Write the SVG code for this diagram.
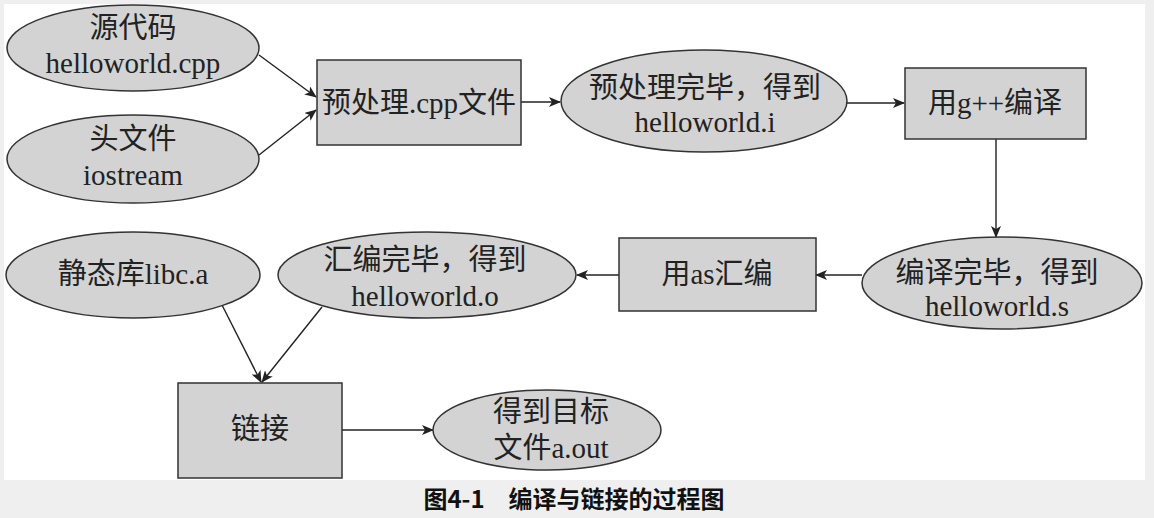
<svg xmlns="http://www.w3.org/2000/svg" width="1154" height="518" viewBox="0 0 1154 518">
<style>
.n{fill:#d3d3d3;stroke:#333;stroke-width:1.5}
.t{font-family:"Liberation Serif","Noto Sans CJK SC",serif;font-size:29px;fill:#222;text-anchor:middle}
.e{fill:none;stroke:#222;stroke-width:1.4;marker-end:url(#a)}
.cap{font-family:"Noto Sans CJK SC","Noto Sans",sans-serif;font-size:24px;font-weight:bold;fill:#111;text-anchor:middle}
</style>
<defs>
<marker id="a" viewBox="0 0 12 10" refX="11" refY="5" markerWidth="12" markerHeight="10" markerUnits="userSpaceOnUse" orient="auto">
<path d="M0,0 L12,5 L0,10 L3,5 Z" fill="#222"/>
</marker>
</defs>
<rect x="0" y="0" width="1154" height="518" fill="#efefef"/>
<rect x="4" y="4" width="1141" height="476" fill="#ffffff"/>
<g id="connectors">
<line class="e" x1="259" y1="55" x2="316" y2="97"/>
<line class="e" x1="259" y1="155" x2="316" y2="110"/>
<line class="e" x1="521" y1="102" x2="560" y2="102"/>
<line class="e" x1="847" y1="103" x2="904" y2="103"/>
<line class="e" x1="996" y1="139" x2="996" y2="237"/>
<line class="e" x1="862" y1="275" x2="816" y2="275"/>
<line class="e" x1="619" y1="275" x2="577" y2="275"/>
<line class="e" x1="222" y1="305" x2="261" y2="382"/>
<line class="e" x1="322" y1="307" x2="262" y2="382"/>
<line class="e" x1="342" y1="430" x2="433" y2="430"/>
</g>
<g id="src"><ellipse class="n" cx="133" cy="48" rx="126" ry="43"/><text class="t" x="133" y="38">源代码</text><text class="t" x="133" y="73">helloworld.cpp</text></g>
<g id="hdr"><ellipse class="n" cx="133" cy="159" rx="126" ry="44"/><text class="t" x="133" y="149">头文件</text><text class="t" x="133" y="185">iostream</text></g>
<g id="pre"><rect class="n" x="317" y="60" width="204" height="85"/><text class="t" x="419" y="113">预处理.cpp文件</text></g>
<g id="prei"><ellipse class="n" cx="704" cy="101" rx="143" ry="51"/><text class="t" x="705" y="98">预处理完毕，得到</text><text class="t" x="705" y="132">helloworld.i</text></g>
<g id="gpp"><rect class="n" x="905" y="68" width="181" height="71"/><text class="t" x="995" y="113">用g++编译</text></g>
<g id="comps"><ellipse class="n" cx="1002" cy="283" rx="140" ry="46"/><text class="t" x="997" y="283">编译完毕，得到</text><text class="t" x="997" y="316">helloworld.s</text></g>
<g id="as"><rect class="n" x="619" y="238" width="197" height="73"/><text class="t" x="717" y="284">用as汇编</text></g>
<g id="asmo"><ellipse class="n" cx="427" cy="275" rx="149" ry="43"/><text class="t" x="425" y="270">汇编完毕，得到</text><text class="t" x="425" y="306">helloworld.o</text></g>
<g id="libc"><ellipse class="n" cx="133" cy="275" rx="127" ry="43"/><text class="t" x="133" y="284">静态库libc.a</text></g>
<g id="link"><rect class="n" x="178" y="383" width="164" height="95"/><text class="t" x="260" y="439">链接</text></g>
<g id="out"><ellipse class="n" cx="547" cy="430" rx="114" ry="40"/><text class="t" x="551" y="422">得到目标</text><text class="t" x="551" y="458">文件a.out</text></g>
<text class="cap" x="574" y="508">图4-1　编译与链接的过程图</text>
</svg>
